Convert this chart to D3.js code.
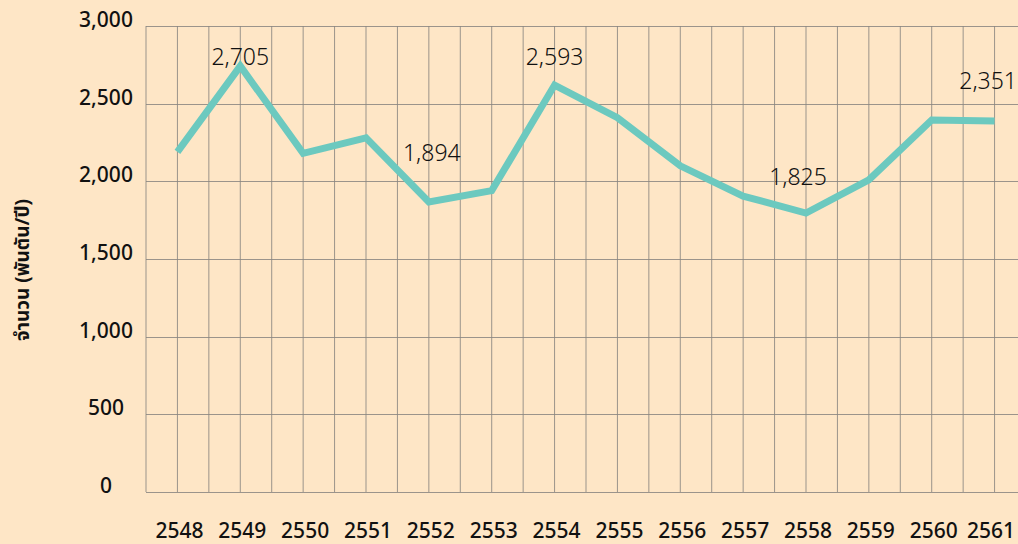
<!DOCTYPE html>
<html>
<head>
<meta charset="utf-8">
<script src="https://cdn.jsdelivr.net/npm/d3@7"></script>
<style>
  html, body { margin: 0; padding: 0; background: #fee6c6; }
  svg { display: block; }
</style>
</head>
<body>
<svg id="chart" width="1018" height="544"></svg>
<script>
// ---- data ----
const years = ["2548","2549","2550","2551","2552","2553","2554","2555","2556","2557","2558","2559","2560","2561"];
const values = [2190, 2742, 2180, 2280, 1867, 1940, 2620, 2410, 2100, 1905, 1796, 2010, 2395, 2389];
const yTicks = [0, 500, 1000, 1500, 2000, 2500, 3000];
const labelYears = ["2549", "2552", "2554", "2558", "2561"];
const labelTexts = ["2,705", "1,894", "2,593", "1,825", "2,351"];
const yTitle = "จำนวน (พันตัน/ปี)";

// ---- layout ----
const W = 1018, H = 544;
const plotLeft = 146, plotTop = 26, plotBottom = 492, plotRight = 1026;
const svg = d3.select("#chart");

const x = d3.scalePoint().domain(years).range([plotLeft, plotRight]).padding(0.5);
const y = d3.scaleLinear().domain([0, 3000]).range([plotBottom, plotTop]);
const half = x.step() / 2;

// vertical grid lines (category centers and midpoints)
const vLines = [];
for (let k = 0; plotLeft + k * half <= W; k++) vLines.push(plotLeft + k * half);
svg.append("g").selectAll("line").data(vLines).join("line")
  .attr("x1", d => d).attr("x2", d => d)
  .attr("y1", plotTop).attr("y2", plotBottom)
  .attr("stroke", "#8a8681").attr("stroke-width", 1).attr("opacity", 0.85);

// horizontal grid lines
svg.append("g").selectAll("line").data(yTicks).join("line")
  .attr("x1", plotLeft).attr("x2", W)
  .attr("y1", d => Math.round(y(d)) + 0.5).attr("y2", d => Math.round(y(d)) + 0.5)
  .attr("stroke", "#8a8681").attr("stroke-width", 1).attr("opacity", 0.85);

// y tick labels
const fmt = d3.format(",");
svg.append("g").selectAll("text").data(yTicks).join("text")
  .attr("x", 106).attr("y", d => y(d) + 1)
  .attr("text-anchor", "middle")
  .attr("font-family", "'Noto Sans', sans-serif")
  .attr("font-size", 21).attr("font-weight", 500)
  .attr("fill", "#111")
  .text(d => fmt(d));

// x tick labels
const xt = svg.append("g").selectAll("text").data(years).join("text")
  .attr("x", d => x(d) + 2).attr("y", 538)
  .attr("text-anchor", "middle")
  .attr("font-family", "'Noto Sans', sans-serif")
  .attr("font-size", 21).attr("font-weight", 500)
  .attr("fill", "#111")
  .text(d => d);
// keep the last label inside the picture
xt.each(function(d) {
  const w = this.getComputedTextLength();
  const cx = +this.getAttribute("x");
  if (cx + w / 2 > W - 3) this.setAttribute("x", W - 3 - w / 2);
});

// y axis title
svg.append("text")
  .attr("transform", "translate(29,270) rotate(-90)")
  .attr("text-anchor", "middle")
  .attr("font-family", "'Noto Sans', 'Noto Sans Thai', sans-serif")
  .attr("font-size", 19).attr("font-weight", 700)
  .attr("fill", "#111")
  .text(yTitle);

// line
const line = d3.line().x((d, i) => x(years[i])).y(d => y(d));
svg.append("path").datum(values)
  .attr("d", line)
  .attr("fill", "none")
  .attr("stroke", "#6cc9bf")
  .attr("stroke-width", 7)
  .attr("stroke-linejoin", "miter");

// data labels
const labelDx = [0, 3, 0, -8, -4];
const labelDy = [-1, -41, -20, -28, -32];
const dl = svg.append("g").selectAll("text").data(labelYears).join("text")
  .attr("x", (d, i) => x(d) + labelDx[i])
  .attr("y", (d, i) => y(values[years.indexOf(d)]) + labelDy[i])
  .attr("text-anchor", "middle")
  .attr("font-family", "'Noto Sans', sans-serif")
  .attr("font-size", 23).attr("font-weight", 300)
  .attr("fill", "#111")
  .text((d, i) => labelTexts[i]);
dl.each(function() {
  const w = this.getComputedTextLength();
  const cx = +this.getAttribute("x");
  if (cx + w / 2 > W - 1) this.setAttribute("x", W - 1 - w / 2);
});
</script>
</body>
</html>
